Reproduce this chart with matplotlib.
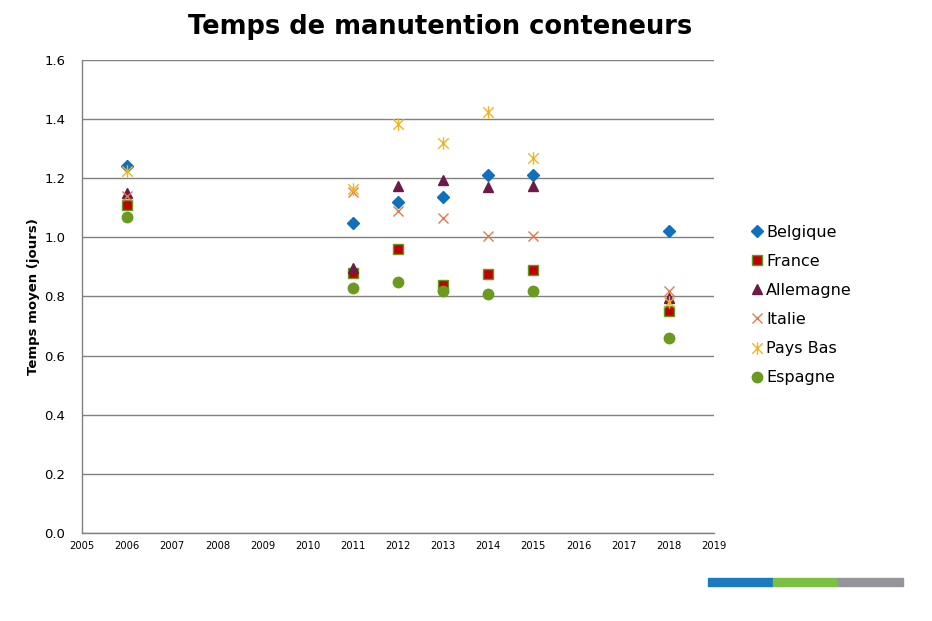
import numpy as np
import matplotlib
matplotlib.use('Agg')
import matplotlib.pyplot as plt
from matplotlib.patches import Rectangle
from matplotlib.path import Path

# --- data
years = [2006, 2011, 2012, 2013, 2014, 2015, 2018]
belgique = [1.24, 1.05, 1.12, 1.135, 1.21, 1.21, 1.02]
france = [1.11, 0.88, 0.96, 0.84, 0.875, 0.89, 0.75]
allemagne = [1.15, 0.895, 1.175, 1.195, 1.17, 1.175, 0.795]
italie = [1.14, 1.155, 1.09, 1.065, 1.005, 1.005, 0.82]
pays_bas = [1.225, 1.165, 1.385, 1.32, 1.425, 1.27, 0.78]
espagne = [1.07, 0.83, 0.85, 0.82, 0.81, 0.82, 0.66]

# excel style star: X with a vertical bar
star = Path([(-1, -1), (1, 1), (-1, 1), (1, -1), (0, -1.2), (0, 1.2)],
            [Path.MOVETO, Path.LINETO] * 3)

series = [
    ('Belgique', belgique, dict(marker='D', color='#1170BB', ms=6, mec='#1170BB')),
    ('France', france, dict(marker='s', color='#C00000', ms=7, mec='#5E9C1E', mew=1.0)),
    ('Allemagne', allemagne, dict(marker='^', color='#6D1A45', ms=7.5, mec='#6D1A45')),
    ('Italie', italie, dict(marker='x', color='#E07B4E', ms=7.5, mew=1.0)),
    ('Pays Bas', pays_bas, dict(marker=star, color='#F0B323', ms=9, mew=1.0)),
    ('Espagne', espagne, dict(marker='o', color='#6A9A1F', ms=7.5, mec='#6A9A1F')),
]

fig = plt.figure(figsize=(9.32, 6.21), dpi=100)
ax = fig.add_axes([0.088, 0.1417, 0.678, 0.7617])

for name, vals, st in series:
    ax.plot(years, vals, linestyle='none', label=name, **st)

ax.set_xlim(2005, 2019)
ax.set_ylim(0, 1.6)
ax.set_xticks(np.arange(2005, 2020))
ax.set_yticks(np.arange(0, 1.61, 0.2))
ax.set_yticklabels(['%.1f' % v for v in np.arange(0, 1.61, 0.2)], fontsize=9.5)
ax.set_xticklabels([str(y) for y in range(2005, 2020)], fontsize=8, fontstretch='condensed')
ax.tick_params(length=0, pad=6)
ax.tick_params(axis='y', pad=12)
ax.yaxis.grid(True, color='#808080', lw=1)
ax.set_axisbelow(True)
for s in ['top', 'right']:
    ax.spines[s].set_visible(False)
for s in ['left', 'bottom']:
    ax.spines[s].set_color('#808080')
    ax.spines[s].set_linewidth(1)

ax.set_ylabel('Temps moyen (jours)', fontsize=9.5, fontweight='bold', labelpad=3)
fig.text(0.472, 0.956, 'Temps de manutention conteneurs', ha='center', va='center',
         fontsize=18.5, fontweight='heavy')

ax.legend(loc='center left', bbox_to_anchor=(1.045, 0.482), frameon=False,
          fontsize=11.5, handletextpad=0.1, handlelength=1.0, labelspacing=0.88,
          borderaxespad=0)

# coloured strip bottom right
strip = ['#1B7BC1', '#7AC143', '#939598']
for i, c in enumerate(strip):
    fig.patches.append(Rectangle((0.7597 + i * 0.0697, 0.0563), 0.0697, 0.0129,
                                 transform=fig.transFigure, color=c))

fig.savefig('out.png', dpi=100)
